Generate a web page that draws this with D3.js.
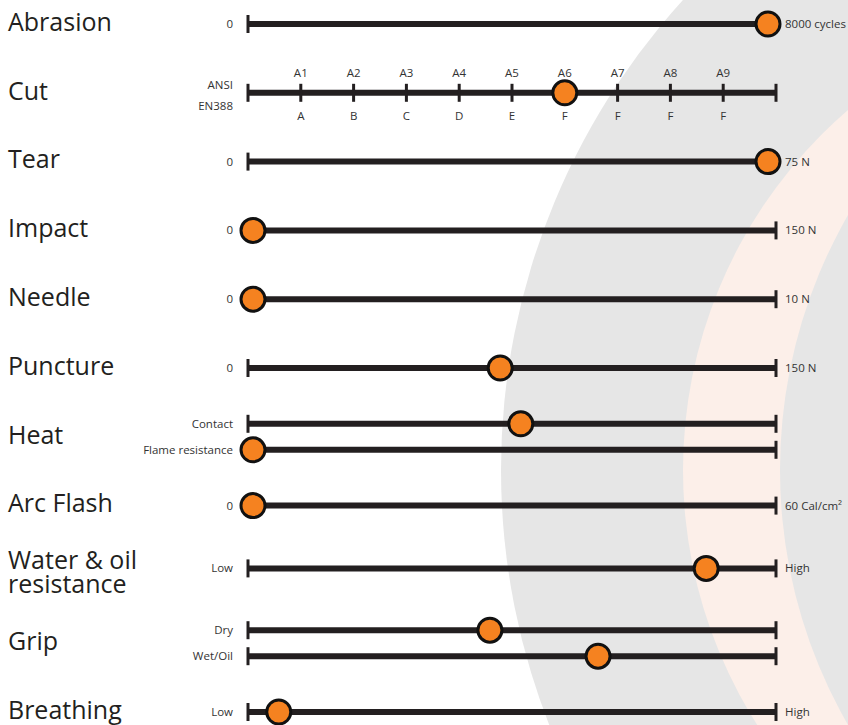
<!DOCTYPE html>
<html>
<head>
<meta charset="utf-8">
<script src="https://cdn.jsdelivr.net/npm/d3@7"></script>
<style>
  body { margin: 0; background: #fff; }
  svg { display: block; font-family: "Open Sans", sans-serif; }
</style>
</head>
<body>
<svg width="848" height="725"></svg>
<script>
var properties = ["Abrasion", "Cut", "Tear", "Impact", "Needle", "Puncture", "Heat",
                  "Arc Flash", "Water & oil resistance", "Grip", "Breathing"];

// one entry per track; Heat and Grip have two tracks each
var trackProperty = ["Abrasion", "Cut", "Tear", "Impact", "Needle", "Puncture", "Heat", "Heat",
                     "Arc Flash", "Water & oil resistance", "Grip", "Grip", "Breathing"];
var minLabels = ["0", "", "0", "0", "0", "0", "Contact", "Flame resistance", "0", "Low", "Dry", "Wet/Oil", "Low"];
var maxLabels = ["8000 cycles", "", "75 N", "150 N", "10 N", "150 N", "", "", "60 Cal/cm²", "High", "", "", "High"];
var maxValues = [8000, 10, 75, 150, 10, 150, 100, 100, 60, 100, 100, 100, 100];
var values    = [8000, 6, 75, 0, 0, 72, 52, 0, 0, 88, 46, 67, 5];

var ansiLevels  = ["A1", "A2", "A3", "A4", "A5", "A6", "A7", "A8", "A9"];
var en388Levels = ["A", "B", "C", "D", "E", "F", "F", "F", "F"];

var svg = d3.select("svg"),
    width = +svg.attr("width"),
    height = +svg.attr("height");

var ink = "#231f20", textCol = "#333", small = 11.5;

// background rings
var bg = svg.append("g");
bg.append("circle").attr("cx", 1199).attr("cy", 470).attr("r", 698).attr("fill", "#e6e6e6");
bg.append("circle").attr("cx", 1158).attr("cy", 470).attr("r", 475).attr("fill", "#fcefe9");
bg.append("circle").attr("cx", 1292).attr("cy", 470).attr("r", 512).attr("fill", "#e6e6e6");

var x0 = 248, x1 = 776;
var y = d3.scalePoint().domain(properties).range([24, 712]);
var xFrac = d3.scaleLinear().domain([0, 1]).range([x0 + 5, x1 - 8]);
var xCut = d3.scaleLinear().domain([0, 10]).range([x0, x1]);

function wrapped(p) { return p === "Water & oil resistance" ? ["Water & oil", "resistance"] : [p]; }

var tracks = trackProperty.map(function(p, i) {
  var same = trackProperty.filter(function(q) { return q === p; }).length;
  var idx = trackProperty.slice(0, i).filter(function(q) { return q === p; }).length;
  var off = same > 1 ? (idx === 0 ? -13 : 13) : 0;
  if (wrapped(p).length > 1) off = -6;
  return {property: p, min: minLabels[i], max: maxLabels[i], maxValue: maxValues[i],
          value: values[i], y: y(p) + off};
});

// property names
svg.append("g").selectAll("text")
  .data(properties)
  .enter().append("text")
    .attr("x", 8)
    .attr("y", function(d) { return y(d) - 2; })
    .attr("font-size", 25)
    .attr("fill", ink)
    .each(function(d) {
      var t = d3.select(this);
      var parts = wrapped(d);
      parts.forEach(function(s, k) {
        t.append("tspan")
          .attr("x", 8)
          .attr("dy", parts.length > 1 ? (k === 0 ? "-0.15em" : "0.96em") : "0.35em")
          .text(s);
      });
    });

var g = svg.append("g");

var row = g.selectAll(".track")
  .data(tracks)
  .enter().append("g")
    .attr("class", "track")
    .attr("transform", function(d) { return "translate(0," + d.y + ")"; });

row.append("line")
    .attr("x1", x0).attr("x2", x1)
    .attr("stroke", ink).attr("stroke-width", 6);

row.selectAll(".cap")
  .data([x0, x1])
  .enter().append("line")
    .attr("class", "cap")
    .attr("x1", function(d) { return d; }).attr("x2", function(d) { return d; })
    .attr("y1", -9).attr("y2", 9)
    .attr("stroke", ink).attr("stroke-width", 3);

row.append("text")
    .attr("x", 233).attr("dy", "0.35em")
    .attr("text-anchor", "end")
    .attr("font-size", small).attr("fill", textCol)
    .text(function(d) { return d.min; });

row.append("text")
    .attr("x", 785).attr("dy", "0.35em")
    .attr("font-size", small).attr("fill", textCol)
    .text(function(d) { return d.max; });

// cut scale ticks and levels
var cut = row.filter(function(d) { return d.property === "Cut"; });
var levels = ansiLevels.map(function(a, i) { return {ansi: a, en: en388Levels[i], v: i + 1}; });

cut.selectAll(".tick")
  .data(levels)
  .enter().append("line")
    .attr("class", "tick")
    .attr("x1", function(d) { return xCut(d.v); }).attr("x2", function(d) { return xCut(d.v); })
    .attr("y1", -9).attr("y2", 9)
    .attr("stroke", ink).attr("stroke-width", 3);

cut.selectAll(".ansi")
  .data(levels)
  .enter().append("text")
    .attr("class", "ansi")
    .attr("x", function(d) { return xCut(d.v); })
    .attr("y", -20).attr("dy", "0.35em")
    .attr("text-anchor", "middle")
    .attr("font-size", small).attr("fill", textCol)
    .text(function(d) { return d.ansi; });

cut.selectAll(".en")
  .data(levels)
  .enter().append("text")
    .attr("class", "en")
    .attr("x", function(d) { return xCut(d.v); })
    .attr("y", 23).attr("dy", "0.35em")
    .attr("text-anchor", "middle")
    .attr("font-size", small).attr("fill", textCol)
    .text(function(d) { return d.en; });

cut.append("text")
    .attr("x", 233).attr("y", -8).attr("dy", "0.35em")
    .attr("text-anchor", "end")
    .attr("font-size", small).attr("fill", textCol)
    .text("ANSI");

cut.append("text")
    .attr("x", 233).attr("y", 13).attr("dy", "0.35em")
    .attr("text-anchor", "end")
    .attr("font-size", small).attr("fill", textCol)
    .text("EN388");

// rating dots
row.append("circle")
    .attr("cx", function(d) {
      return d.property === "Cut" ? xCut(d.value) : xFrac(d.value / d.maxValue);
    })
    .attr("r", 12)
    .attr("fill", "#f58220")
    .attr("stroke", "#111")
    .attr("stroke-width", 3);
</script>
</body>
</html>
